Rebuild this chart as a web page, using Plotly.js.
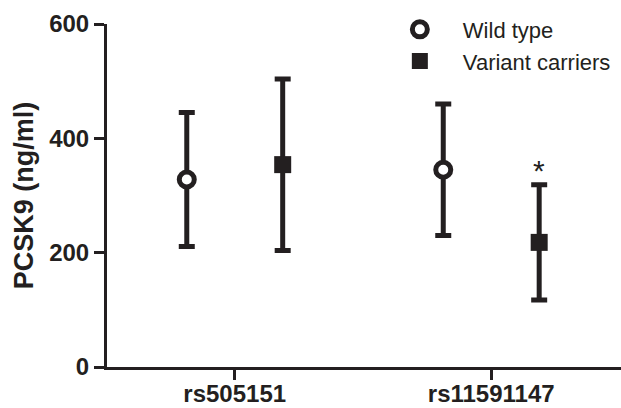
<!DOCTYPE html>
<html>
<head>
<meta charset="utf-8">
<script src="https://cdn.plot.ly/plotly-3.0.1.min.js"></script>
<style>html,body{margin:0;padding:0;background:#fff;}#chart{width:621px;height:408px;}</style>
</head>
<body>
<div id="chart"></div>
<script>
// Data
const categories = ["rs505151", "rs11591147"];
const seriesNames = ["Wild type", "Variant carriers"];
const wildMean = [328, 345];
const wildSD = [117, 115];
const variantMean = [354, 218];
const variantSD = [150, 101];
const yTicks = [0, 200, 400, 600];
const significant = [false, true]; // variant carriers vs wild type

const ink = '#231f20';
const font = '"Liberation Sans", Arial, sans-serif';
const off = 0.187;
const idx = categories.map((c, i) => i);

const traces = [
  {
    name: seriesNames[0],
    x: idx.map(i => i - off),
    y: wildMean,
    type: 'scatter', mode: 'markers', cliponaxis: false,
    marker: {symbol: 'circle', size: 15, color: '#ffffff', line: {color: ink, width: 5}},
    error_y: {type: 'data', array: wildSD, visible: true, color: ink, thickness: 5, width: 8}
  },
  {
    name: seriesNames[1],
    x: idx.map(i => i + off),
    y: variantMean,
    type: 'scatter', mode: 'markers', cliponaxis: false,
    marker: {symbol: 'square', size: 17, color: ink, line: {width: 0}},
    error_y: {type: 'data', array: variantSD, visible: true, color: ink, thickness: 5, width: 8}
  }
];

const annotations = idx.filter(i => significant[i]).map(i => ({
  x: i + off, y: variantMean[i] + variantSD[i], xref: 'x', yref: 'y',
  text: '*', showarrow: false, yanchor: 'bottom', yshift: -4,
  font: {family: font, size: 30, color: ink}
}));

const layout = {
  width: 621, height: 408,
  margin: {l: 107, r: 0, t: 24, b: 41, pad: 0},
  paper_bgcolor: '#fff', plot_bgcolor: '#fff',
  font: {family: font, color: ink},
  showlegend: true,
  legend: {
    x: 0.525, y: 1.045, xanchor: 'left', yanchor: 'top',
    font: {family: font, size: 22, color: ink},
    bgcolor: 'rgba(0,0,0,0)', tracegroupgap: 0, itemwidth: 76
  },
  xaxis: {
    range: [-0.498, 1.506], tickvals: idx, ticktext: categories,
    showline: true, linewidth: 3, linecolor: ink,
    ticks: 'outside', ticklen: 10, tickwidth: 3, tickcolor: ink,
    showgrid: false, zeroline: false, ticklabelstandoff: -7,
    tickfont: {family: font, size: 24, color: ink, weight: 'bold'}
  },
  yaxis: {
    range: [0, 600], tickvals: yTicks,
    showline: true, linewidth: 3, linecolor: ink,
    ticks: 'outside', ticklen: 10, tickwidth: 3, tickcolor: ink,
    showgrid: false, zeroline: false,
    tickfont: {family: font, size: 24, color: ink, weight: 'bold'},
    title: {text: 'PCSK9 (ng/ml)', font: {family: font, size: 27, color: ink, weight: 'bold'}, standoff: 8}
  },
  annotations: annotations
};

Plotly.newPlot('chart', traces, layout, {displayModeBar: false, staticPlot: true});
</script>
</body>
</html>
